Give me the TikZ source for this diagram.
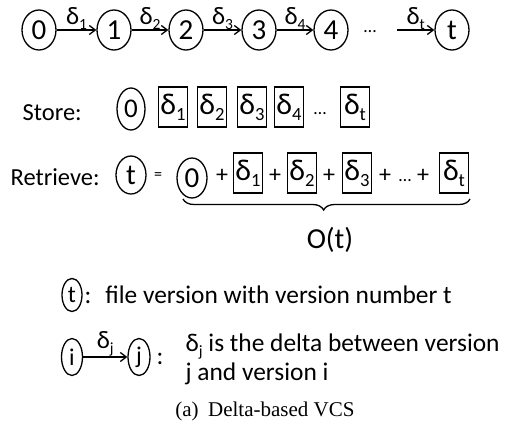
\documentclass[tikz,border=0pt]{standalone}
\usepackage{fontspec}
\usepackage{graphicx}
\setmainfont{Carlito}
\newfontfamily\capfont{Liberation Serif}
\usetikzlibrary{shapes.geometric,arrows.meta,decorations.pathreplacing}
\newcommand\myfs[1]{\fontsize{#1}{#1}\selectfont}
\newcommand\dl[1]{δ\raisebox{-0.2em}{\scalebox{0.62}{#1}}}
\begin{document}
\begin{tikzpicture}[x=1pt,y=-1pt,line width=1.3pt,
  ver/.style={draw,ellipse,inner sep=0pt,font=\myfs{29pt}},
  topv/.style={ver,minimum width=34pt,minimum height=40pt},
  dbox/.style={draw,rectangle,inner sep=0pt,minimum width=29pt,minimum height=40pt,font=\myfs{30pt}},
  arr/.style={-{Straight Barb[length=6pt,width=9pt]}},
  lab/.style={midway,above,inner sep=0pt,font=\myfs{25pt}},
  txt/.style={inner sep=0pt,font=\myfs{24.5pt}},
  op/.style={inner sep=0pt,font=\myfs{24pt}}
]
\useasboundingbox (0,0) rectangle (506,428);
% top row
\node[topv] (n0) at (39,30) {0};
\node[topv] (n1) at (114,30) {1};
\node[topv] (n2) at (186,30) {2};
\node[topv] (n3) at (259,30) {3};
\node[topv] (n4) at (331,30) {4};
\node[topv] (nt) at (452,30) {t};
\draw[arr] (n0) -- node[lab]{\dl{1}} (n1);
\draw[arr] (n1) -- node[lab]{\dl{2}} (n2);
\draw[arr] (n2) -- node[lab]{\dl{3}} (n3);
\draw[arr] (n3) -- node[lab]{\dl{4}} (n4);
\node[inner sep=0pt,anchor=base,font=\myfs{18pt}] (dots1) at (370,33) {…};
\coordinate (ts) at (397,30);
\draw[arr] (ts) -- node[lab]{\dl{t}} (nt);
% store row
\node[txt,anchor=base west] (store) at (22,121) {Store:};
\node[ver,minimum width=28pt,minimum height=42pt,font=\myfs{27pt}] (s0) at (131,109) {0};
\node[dbox] (s1) at (173,107) {\dl{1}};
\node[dbox] (s2) at (212,107) {\dl{2}};
\node[dbox] (s3) at (252,107) {\dl{3}};
\node[dbox] (s4) at (289,107) {\dl{4}};
\node[inner sep=0pt,anchor=base,font=\myfs{18pt}] (dots2) at (320,114) {…};
\node[dbox] (st) at (355,107) {\dl{t}};
% retrieve row
\node[txt,anchor=base west] (retr) at (10,185) {Retrieve:};
\node[ver,minimum width=30pt,minimum height=38pt] (rt) at (131,175) {t};
\node[inner sep=0pt,font=\myfs{16pt}] (eq) at (158,176) {=};
\node[ver,minimum width=30pt,minimum height=40pt] (r0) at (192,178) {0};
\node[op] (p1) at (222,176) {+};
\node[dbox] (r1) at (248,173) {\dl{1}};
\node[op] (p2) at (275,176) {+};
\node[dbox] (r2) at (302,173) {\dl{2}};
\node[op] (p3) at (329,176) {+};
\node[dbox] (r3) at (357,173) {\dl{3}};
\node[op] (p4) at (385,176) {+};
\node[inner sep=0pt,anchor=base,font=\myfs{18pt}] (dots3) at (405,181) {…};
\node[op] (p5) at (423,176) {+};
\node[dbox] (rtt) at (454,173) {\dl{t}};
\coordinate (bl) at (183,199);
\coordinate (br) at (470,199);
\draw[decorate,decoration={brace,mirror,amplitude=11pt,aspect=0.49}] (bl) -- (br);
\node[inner sep=0pt,font=\myfs{29pt}] (ot) at (330,240) {O(t)};
% legend
\node[ver,minimum width=20pt,minimum height=33pt,font=\myfs{24pt}] (lt) at (72,295) {t};
\node[inner sep=0pt,anchor=base west,font=\myfs{25.4pt}] (ltxt) at (84,303) {:\hspace{0.55em}file version with version number t};
\node[ver,minimum width=21pt,minimum height=37pt,font=\myfs{24pt}] (li) at (72,357) {i};
\node[ver,minimum width=22pt,minimum height=37pt,font=\myfs{24pt}] (lj) at (139,357) {j};
\draw[arr] (li) -- node[lab]{\dl{j}} (lj);
\node[inner sep=0pt,anchor=base,font=\myfs{25.4pt}] (colon) at (160,364) {:};
\node[inner sep=0pt,anchor=base west,font=\myfs{25.4pt}] (ltxt2) at (185,351) {\dl{j} is the delta between version};
\node[inner sep=0pt,anchor=base west,font=\myfs{25.4pt}] (ltxt3) at (185,380) {j and version i};
% caption
\node[inner sep=0pt,font=\capfont\myfs{21pt}] (cap) at (265,411) {(a)\hspace{0.45em}Delta-based VCS};
\end{tikzpicture}
\end{document}
